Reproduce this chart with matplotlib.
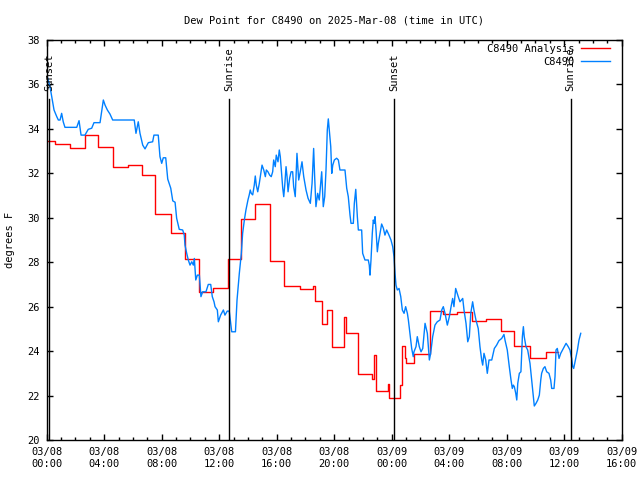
import matplotlib
matplotlib.use('Agg')
import matplotlib.pyplot as plt
from matplotlib.ticker import MultipleLocator

plt.rcParams['font.family'] = 'DejaVu Sans Mono'

# hours since 03/08 00:00 UTC
blue_hours = [0.07, 0.23, 0.35, 0.51, 0.70, 0.81, 0.93, 1.04, 1.15, 1.27, 2.09, 2.25, 2.39, 2.66,
              2.89, 3.13, 3.29, 3.71, 3.94, 4.06, 4.22, 4.40, 4.59, 6.09, 6.21, 6.37, 6.49, 6.68,
              6.84, 7.07, 7.37, 7.46, 7.76, 7.88, 8.00, 8.11, 8.28, 8.42, 8.63, 8.77, 8.93, 9.04,
              9.22, 9.46, 9.57, 9.62, 9.74, 9.85, 9.97, 10.09, 10.20, 10.27, 10.37, 10.48, 10.62,
              10.73, 10.85, 11.08, 11.24, 11.41, 11.52, 11.64, 11.71, 11.87, 11.94, 12.10, 12.29,
              12.40, 12.56, 12.70, 12.80, 12.87, 13.13, 13.24, 13.40, 13.54, 13.63, 13.75, 13.86,
              14.00, 14.09, 14.16, 14.23, 14.33, 14.44, 14.51, 14.58, 14.68, 14.79, 14.91, 14.98,
              15.10, 15.21, 15.28, 15.39, 15.51, 15.62, 15.72, 15.79, 15.90, 15.97, 16.09, 16.18,
              16.25, 16.32, 16.42, 16.49, 16.56, 16.65, 16.72, 16.79, 16.90, 17.00, 17.11, 17.18,
              17.29, 17.41, 17.53, 17.64, 17.76, 17.88, 18.04, 18.18, 18.34, 18.46, 18.57, 18.64,
              18.73, 18.85, 18.96, 19.13, 19.24, 19.34, 19.43, 19.52, 19.59, 19.66, 19.76, 19.83,
              19.90, 20.01, 20.17, 20.29, 20.40, 20.75, 20.87, 20.98, 21.10, 21.17, 21.33, 21.40,
              21.50, 21.61, 21.68, 21.91, 21.98, 22.14, 22.37, 22.44, 22.49, 22.56, 22.65, 22.72,
              22.79, 22.84, 22.91, 23.00, 23.07, 23.19, 23.30, 23.42, 23.53, 23.65, 23.81, 23.95,
              24.07, 24.16, 24.23, 24.30, 24.39, 24.51, 24.63, 24.74, 24.86, 24.97, 25.09, 25.16,
              25.27, 25.39, 25.50, 25.55, 25.69, 25.78, 25.92, 26.04, 26.16, 26.32, 26.48, 26.62,
              26.71, 26.85, 27.01, 27.17, 27.36, 27.48, 27.59, 27.71, 27.87, 28.01, 28.13, 28.24,
              28.33, 28.45, 28.52, 28.63, 28.75, 28.94, 29.03, 29.17, 29.29, 29.40, 29.50, 29.63,
              29.72, 29.86, 30.02, 30.14, 30.26, 30.33, 30.42, 30.54, 30.65, 30.77, 30.96, 31.14,
              31.30, 31.46, 31.65, 31.81, 31.88, 32.04, 32.18, 32.30, 32.39, 32.46, 32.53, 32.63,
              32.70, 32.77, 32.88, 32.99, 33.09, 33.16, 33.22, 33.34, 33.46, 33.62, 33.74, 33.81,
              33.92, 34.04, 34.16, 34.27, 34.37, 34.43, 34.55, 34.66, 34.78, 34.94, 35.06, 35.13,
              35.29, 35.36, 35.43, 35.52, 35.64, 35.76, 35.94, 36.13, 36.28, 36.40, 36.52, 36.59,
              36.66, 36.80, 36.92, 37.03, 37.15]
blue_dewpt = [36.28, 35.9, 35.45, 34.85, 34.55, 34.4, 34.4, 34.7, 34.32, 34.07, 34.07, 34.37, 33.72, 33.72,
              33.98, 34.03, 34.28, 34.28, 35.3, 35.07, 34.85, 34.67, 34.4, 34.4, 33.8, 34.32, 33.8, 33.27,
              33.1, 33.38, 33.42, 33.72, 33.72, 32.75, 32.45, 32.7, 32.7, 31.74, 31.33, 30.76, 30.7, 29.98,
              29.48, 29.45, 29.22, 28.77, 28.4, 28.1, 27.87, 28.02, 27.87, 28.17, 27.2, 27.42, 27.42,
              26.45, 26.67, 26.67, 27.0, 27.0, 26.45, 26.22, 26.0, 25.85, 25.32, 25.62, 25.85,
              25.62, 25.8, 25.8, 25.25, 24.87, 24.87, 26.3, 27.5, 28.4, 29.3, 29.9, 30.35,
              30.8, 31.03, 31.25, 31.1, 31.03, 31.47, 31.88, 31.47, 31.17, 31.55, 32.07, 32.37,
              32.15, 31.85, 32.15, 32.07, 31.92, 31.85, 32.07, 32.6, 32.3, 32.82, 32.52, 33.05,
              32.75, 32.15, 31.33, 30.95, 31.47, 32.3, 31.85, 31.17, 31.78, 32.07, 32.07, 31.4,
              30.95, 32.9, 31.7, 32.07, 32.52, 31.85, 31.25, 30.88, 30.65, 31.55, 33.12, 31.85,
              30.5, 31.1, 30.8, 32.07, 30.5, 30.95, 32.15, 33.95, 34.45, 33.95, 33.2, 32.0,
              32.37, 32.6, 32.68, 32.6, 32.15, 32.15, 31.33, 30.95, 30.12, 29.75, 29.75, 30.65,
              31.28, 30.05, 29.45, 29.45, 28.4, 28.1, 28.1, 27.87, 27.42, 28.1, 29.3, 29.9,
              29.75, 30.05, 29.45, 28.47, 28.85, 29.3, 29.72, 29.53, 29.22, 29.45, 29.22, 29.0,
              28.7, 28.25, 27.5, 26.97, 26.75, 26.82, 26.45, 25.85, 25.7, 26.0, 25.7, 25.4,
              24.8, 24.12, 23.75, 23.97, 24.2, 24.65, 24.2, 23.97, 24.12, 25.25, 24.8, 23.6,
              23.9, 24.65, 25.17, 25.32, 25.4, 25.85, 26.0, 25.7, 25.17, 25.55, 26.0, 26.37,
              26.0, 26.82, 26.67, 26.45, 26.22, 26.37, 25.85, 25.25, 24.42, 24.65, 25.7, 26.22,
              25.85, 25.4, 25.02, 24.2, 23.6, 23.37, 23.9, 23.6, 23.0, 23.6, 23.6, 24.12,
              24.27, 24.47, 24.57, 24.75, 24.5, 24.05, 23.3, 22.7, 22.32, 22.47, 22.4, 22.1,
              21.8, 22.55, 23.0, 23.07, 24.65, 25.1, 24.65, 24.2, 24.05, 23.45, 22.7, 22.25,
              21.53, 21.65, 21.8, 22.02, 22.7, 23.0, 23.22, 23.3, 23.07, 23.0, 22.7, 22.32,
              22.32, 22.85, 24.05, 24.12, 23.67, 23.9, 24.12, 24.35, 24.2, 24.05, 23.67, 23.3,
              23.22, 23.67, 24.05, 24.5, 24.8]

red_hours = [0.0, 0.55, 1.62, 2.66, 3.6, 4.6, 5.68, 6.6, 7.55, 8.63, 9.6, 10.6, 11.6, 12.6, 13.52,
             14.5, 15.55, 16.49, 17.62, 18.55, 18.65, 19.13, 19.52, 19.83, 20.7, 20.82, 21.68, 22.6,
             22.75, 22.9, 23.72, 23.82, 24.58, 24.7, 24.93, 25.0, 25.55, 26.69, 27.59, 28.54, 29.57,
             30.56, 31.58, 32.53, 33.62, 34.73, 35.57]
red_dewpt = [33.44, 33.31, 33.13, 33.71, 33.18, 32.27, 32.36, 31.92, 30.15, 29.3, 28.13, 26.65, 26.83,
             28.13, 29.93, 30.6, 28.04, 26.92, 26.8, 26.92, 26.25, 25.22, 25.85, 24.2, 25.55, 24.8,
             22.97, 22.75, 23.82, 22.22, 22.52, 21.9, 22.47, 24.24, 23.68, 23.45, 23.85, 25.79, 25.65,
             25.75, 25.35, 25.43, 24.89, 24.23, 23.68, 23.96, 23.96]

sun_hours = [0.18, 12.71, 24.17, 36.45]
sun_labels = ['Sunset', 'Sunrise', 'Sunset', 'Sunrise']

xtick_hours = [0, 4, 8, 12, 16, 20, 24, 28, 32, 36, 40]
xtick_labels = ['03/08\n00:00', '03/08\n04:00', '03/08\n08:00', '03/08\n12:00', '03/08\n16:00',
                '03/08\n20:00', '03/09\n00:00', '03/09\n04:00', '03/09\n08:00', '03/09\n12:00',
                '03/09\n16:00']

fs = 7.5
fig = plt.figure(figsize=(6.4, 4.8), dpi=100)
ax = fig.add_axes([46.7 / 640, 40 / 480, 575 / 640, 400 / 480])

ax.plot(red_hours, red_dewpt, color='#ff0000', lw=1.0, drawstyle='steps-post', label='C8490 Analysis')
ax.plot(blue_hours, blue_dewpt, color='#0080ff', lw=1.0, label='C8490')

# sunrise / sunset markers
for h, lab in zip(sun_hours, sun_labels):
    ax.plot([h, h], [20, 35.35], color='black', lw=1.0)
    ax.text(h, 35.7, lab, rotation=90, ha='center', va='bottom', fontsize=fs)

ax.set_xlim(0, 40)
ax.set_ylim(20, 38)
ax.set_xticks(xtick_hours)
ax.set_xticklabels(xtick_labels)
ax.xaxis.set_minor_locator(MultipleLocator(1))
ax.set_yticks(range(20, 39, 2))
ax.tick_params(axis='both', which='major', direction='in', length=4, width=1,
               top=True, right=True, labelsize=fs, pad=5)
ax.tick_params(axis='x', which='minor', direction='in', length=2, width=1, top=True)
for s in ax.spines.values():
    s.set_linewidth(1)

ax.set_ylabel('degrees F', fontsize=fs, labelpad=9)
ax.set_title('Dew Point for C8490 on 2025-Mar-08 (time in UTC)', fontsize=fs, pad=12)

ax.legend(loc='upper right', bbox_to_anchor=(1 - 11.7 / 575, 1 - 4.0 / 400), frameon=False,
          markerfirst=False, fontsize=fs, handlelength=2.8, handletextpad=0.6,
          labelspacing=0.25, borderaxespad=0, borderpad=0)

fig.savefig('out.png', dpi=100)
